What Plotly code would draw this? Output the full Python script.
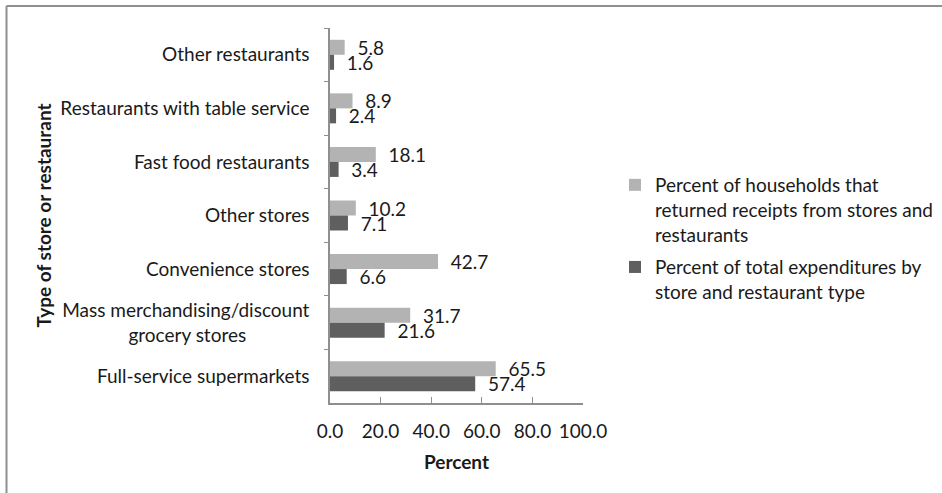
import plotly.graph_objects as go

categories = [
    "Other restaurants",
    "Restaurants with table service",
    "Fast food restaurants",
    "Other stores",
    "Convenience stores",
    "Mass merchandising/discount<br>grocery stores" + "\u00a0" * 13,
    "Full-service supermarkets",
]
households_pct = [5.8, 8.9, 18.1, 10.2, 42.7, 31.7, 65.5]
expenditure_pct = [1.6, 2.4, 3.4, 7.1, 6.6, 21.6, 57.4]

series_names = [
    "Percent of households that<br>returned receipts from stores and<br>restaurants",
    "Percent of total expenditures by<br>store and restaurant type",
]
x_ticks = [0, 20, 40, 60, 80, 100]
x_tick_labels = ["0.0", "20.0", "40.0", "60.0", "80.0", "100.0"]

FONT = "Lato"
FS = 19
TXT = "#1a1a1a"
W, H = 942, 493
L, R, T, B = 330, 359, 28, 90
pw, ph = W - L - R, H - T - B

fig = go.Figure()
for vals, name, color, grp in [
    (households_pct, series_names[0], "#b3b3b3", "a"),
    (expenditure_pct, series_names[1], "#5f5f5f", "b"),
]:
    fig.add_trace(go.Bar(
        y=categories, x=vals, orientation="h", name=name,
        marker=dict(color=color, line=dict(width=0)),
        text=vals, texttemplate="\u00a0\u00a0%{x:.1f}", textposition="outside",
        textfont=dict(family=FONT, size=FS, color=TXT),
        constraintext="none", cliponaxis=False, legendgroup=grp,
    ))

fig.update_layout(
    width=W, height=H, autosize=False,
    margin=dict(l=L, r=R, t=T, b=B, autoexpand=False),
    paper_bgcolor="white", plot_bgcolor="white",
    barmode="group", bargap=0.44, bargroupgap=0,
    font=dict(family=FONT, size=FS, color=TXT),
    legend=dict(
        x=(615 - L) / pw, y=(H - B - 166) / ph, xanchor="left", yanchor="top",
        font=dict(family=FONT, size=19, color=TXT),
        valign="top", tracegroupgap=5, traceorder="grouped",
        itemwidth=30, bgcolor="rgba(0,0,0,0)",
    ),
    showlegend=True,
    shapes=[
        dict(type="line", xref="paper", yref="paper",
             x0=(6.5 - L) / pw, x1=(W - L) / pw,
             y0=(H - B - 6) / ph, y1=(H - B - 6) / ph,
             line=dict(color="#8f8f8f", width=2)),
        dict(type="line", xref="paper", yref="paper",
             x0=(6.5 - L) / pw, x1=(6.5 - L) / pw,
             y0=(H - B - 6) / ph, y1=(H - B - H) / ph,
             line=dict(color="#8f8f8f", width=2)),
    ],
)
fig.update_xaxes(
    range=[0, 100], tickvals=x_ticks, ticktext=x_tick_labels, automargin=False,
    ticks="inside", ticklen=6, tickcolor="#8f8f8f", tickwidth=1,
    showline=True, linecolor="#8f8f8f", linewidth=1.5,
    showgrid=False, zeroline=False, ticklabelstandoff=10,
    tickfont=dict(family=FONT, size=FS, color=TXT),
    title=dict(text="<b>Percent</b>", standoff=15,
               font=dict(family=FONT, size=FS, color=TXT)),
)
fig.update_yaxes(
    autorange="reversed", type="category", automargin=False,
    ticks="outside", tickson="boundaries", ticklen=4, tickcolor="#8f8f8f",
    showline=True, linecolor="#8f8f8f", linewidth=1.5,
    showgrid=False, zeroline=False, ticklabelstandoff=15,
    tickfont=dict(family=FONT, size=FS, color=TXT),
    title=dict(text="<b>Type of store or restaurant</b>", standoff=4,
               font=dict(family=FONT, size=FS, color=TXT)),
)

fig.write_html("out.html")
